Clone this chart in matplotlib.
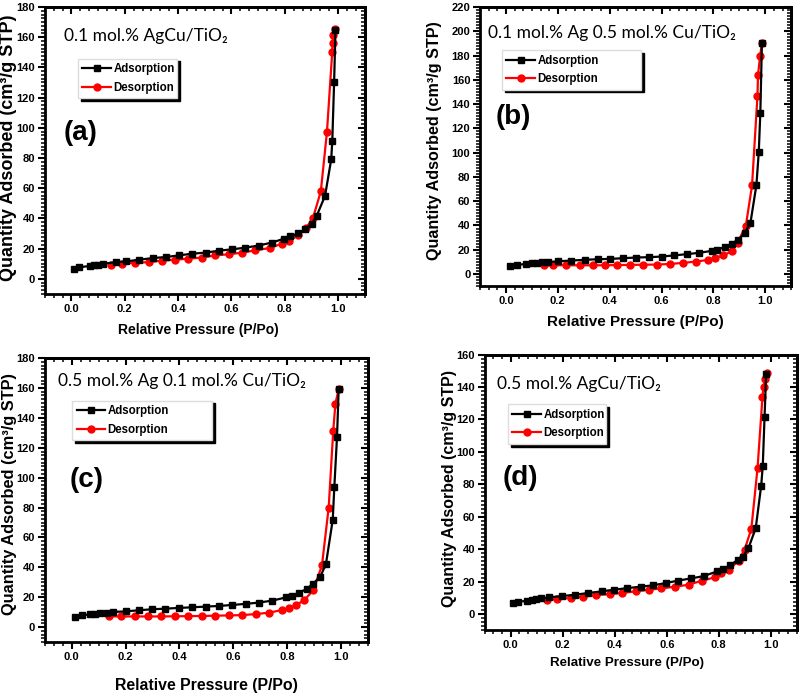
import matplotlib
matplotlib.use("Agg")
import matplotlib.pyplot as plt
from matplotlib.ticker import MultipleLocator, AutoMinorLocator, NullFormatter

plt.rcParams['font.family'] = ['Liberation Sans', 'DejaVu Sans']

# ---------------- data ----------------
titles = ["0.1 mol.% AgCu/TiO\u2082",
          "0.1 mol.% Ag 0.5 mol.% Cu/TiO\u2082",
          "0.5 mol.% Ag 0.1 mol.% Cu/TiO\u2082",
          "0.5 mol.% AgCu/TiO\u2082"]
labels = ["(a)", "(b)", "(c)", "(d)"]

ads_x_a = [0.010, 0.030, 0.068, 0.085, 0.100, 0.120, 0.168, 0.205, 0.255, 0.304, 0.354, 0.404,
           0.453, 0.503, 0.553, 0.602, 0.652, 0.702, 0.752, 0.798, 0.820, 0.851, 0.876, 0.902,
           0.920, 0.951, 0.974, 0.978, 0.985, 0.990]
ads_y_a = [6.6, 7.7, 8.4, 8.9, 9.3, 10.0, 11.0, 11.5, 12.6, 13.7, 14.4, 15.5,
           16.6, 17.3, 18.6, 19.5, 20.6, 22.0, 24.0, 26.6, 28.0, 30.0, 32.8, 36.5,
           41.8, 55.0, 79.0, 91.0, 130.5, 165.0]
des_x_a = [0.989, 0.982, 0.979, 0.978, 0.958, 0.935, 0.906, 0.880, 0.851, 0.814, 0.789, 0.743,
           0.690, 0.640, 0.590, 0.540, 0.488, 0.438, 0.389, 0.339, 0.290, 0.240, 0.190, 0.149]
des_y_a = [165.5, 161.5, 156.0, 150.5, 97.0, 57.8, 40.5, 33.5, 28.8, 25.0, 23.2, 20.4,
           18.8, 17.3, 16.2, 15.5, 14.0, 13.3, 12.6, 12.0, 11.0, 10.6, 10.0, 9.3]

ads_x_b = [0.017, 0.042, 0.076, 0.099, 0.118, 0.138, 0.163, 0.200, 0.252, 0.303, 0.354, 0.403,
           0.450, 0.500, 0.552, 0.600, 0.647, 0.698, 0.746, 0.794, 0.815, 0.845, 0.870, 0.896,
           0.921, 0.943, 0.966, 0.975, 0.981, 0.987]
ads_y_b = [6.4, 7.5, 8.3, 8.9, 9.2, 9.7, 9.8, 10.5, 11.1, 11.7, 12.2, 12.5,
           13.0, 13.6, 13.9, 14.4, 15.3, 16.4, 17.5, 19.1, 20.2, 22.2, 25.0, 28.3,
           33.8, 42.4, 73.5, 100.7, 133.0, 190.0]
des_x_b = [0.987, 0.980, 0.972, 0.970, 0.949, 0.925, 0.893, 0.870, 0.836, 0.806, 0.781, 0.734,
           0.683, 0.632, 0.581, 0.530, 0.480, 0.430, 0.382, 0.335, 0.284, 0.233, 0.180, 0.148]
des_y_b = [190.0, 179.5, 163.7, 147.0, 73.0, 39.7, 25.8, 18.6, 15.3, 13.3, 11.7, 10.3,
           9.2, 8.3, 7.8, 7.7, 7.5, 7.4, 7.2, 7.2, 7.2, 7.2, 7.2, 7.2]

ads_x_c = [0.012, 0.037, 0.068, 0.087, 0.106, 0.130, 0.155, 0.200, 0.248, 0.298, 0.348, 0.398,
           0.447, 0.497, 0.547, 0.596, 0.646, 0.696, 0.745, 0.795, 0.817, 0.845, 0.872, 0.894,
           0.922, 0.944, 0.969, 0.975, 0.985, 0.991]
ads_y_c = [6.8, 7.9, 8.6, 9.0, 9.2, 9.7, 10.2, 10.6, 11.3, 12.0, 12.4, 12.9,
           13.3, 13.8, 14.2, 14.9, 15.6, 16.5, 17.8, 19.9, 21.0, 23.2, 25.5, 28.9,
           33.4, 42.4, 71.7, 93.8, 127.5, 159.0]
des_x_c = [0.991, 0.979, 0.971, 0.954, 0.929, 0.897, 0.863, 0.832, 0.807, 0.780, 0.733, 0.683,
           0.634, 0.584, 0.532, 0.482, 0.432, 0.383, 0.333, 0.283, 0.234, 0.184, 0.137]
des_y_c = [159.0, 149.6, 131.5, 80.0, 41.3, 24.8, 18.0, 14.7, 12.6, 11.5, 9.7, 8.8,
           8.1, 7.9, 7.7, 7.5, 7.4, 7.3, 7.2, 7.2, 7.2, 7.2, 7.2]

ads_x_d = [0.010, 0.029, 0.064, 0.080, 0.098, 0.118, 0.147, 0.196, 0.247, 0.298, 0.349, 0.396,
           0.448, 0.499, 0.546, 0.595, 0.643, 0.693, 0.742, 0.793, 0.815, 0.844, 0.872, 0.893,
           0.914, 0.942, 0.963, 0.969, 0.976, 0.982]
ads_y_d = [6.6, 7.6, 8.2, 8.8, 9.3, 9.7, 10.3, 11.1, 11.9, 13.0, 14.0, 15.0,
           16.0, 16.9, 17.7, 19.1, 20.6, 22.0, 23.4, 26.3, 27.6, 30.2, 33.3, 35.4,
           40.7, 52.9, 79.2, 91.0, 121.7, 148.0]
des_x_d = [0.984, 0.979, 0.972, 0.968, 0.949, 0.925, 0.899, 0.876, 0.838, 0.810, 0.784, 0.735,
           0.684, 0.633, 0.579, 0.531, 0.480, 0.428, 0.380, 0.329, 0.277, 0.230, 0.179, 0.141]
des_y_d = [148.7, 145.0, 140.0, 134.0, 90.0, 52.4, 39.7, 33.0, 27.1, 25.3, 22.6, 20.6,
           18.1, 16.9, 15.8, 15.0, 14.0, 13.0, 12.3, 11.7, 10.7, 9.9, 9.3, 8.6]

ymax = [180, 220, 180, 160]
xtick_vals = [0.0, 0.2, 0.4, 0.6, 0.8, 1.0]
xtick_text = ['0.0', '0.2', '0.4', '0.6', '0.8', '1.0']
xlabel_text = 'Relative Pressure (P/Po)'
ylabel_text = 'Quantity Adsorbed (cm\u00b3/g STP)'

ads_x = [ads_x_a, ads_x_b, ads_x_c, ads_x_d]
ads_y = [ads_y_a, ads_y_b, ads_y_c, ads_y_d]
des_x = [des_x_a, des_x_b, des_x_c, des_x_d]
des_y = [des_y_a, des_y_b, des_y_c, des_y_d]

# ---------------- layout ----------------
fig = plt.figure(figsize=(8.0, 6.98), dpi=100)
rects = [(0.056, 0.579, 0.400, 0.411),
         (0.600, 0.590, 0.389, 0.400),
         (0.056, 0.080, 0.404, 0.407),
         (0.606, 0.097, 0.390, 0.395)]
title_pos = [(0.06, 0.90), (0.026, 0.907), (0.04, 0.92), (0.04, 0.895)]
label_pos = [(0.06, 0.56), (0.05, 0.606), (0.077, 0.57), (0.058, 0.554)]
leg_box = [(0.103, 0.82, 0.31), (0.07, 0.846, 0.447), (0.084, 0.85, 0.433), (0.074, 0.82, 0.315)]
xl_pos = [(0.48, -0.125), (0.498, -0.129), (0.50, -0.151), (0.455, -0.12)]
yl_pos = [(-0.1125, 0.51), (-0.145, 0.52), (-0.108, 0.523), (-0.112, 0.513)]
xl_size = [10.0, 11.0, 11.4, 9.6]
yl_size = [13.0, 11.6, 11.8, 11.5]

for i in range(4):
    ax = fig.add_axes(rects[i])
    ax.plot(ads_x[i], ads_y[i], color='black', marker='s', markersize=4.5,
            linewidth=1.6, label='Adsorption', zorder=3)
    ax.plot(des_x[i], des_y[i], color='#ff0000', marker='o', markersize=5,
            linewidth=1.6, label='Desorption', zorder=2)
    ax.set_xlim(-0.1, 1.1)
    ax.set_ylim(-10, ymax[i])
    ax.set_xticks(xtick_vals)
    ax.set_xticklabels(xtick_text)
    ax.xaxis.set_minor_locator(AutoMinorLocator(6))
    ax.yaxis.set_major_locator(MultipleLocator(20))
    ax.yaxis.set_minor_locator(MultipleLocator(2.5))
    ax.tick_params(which='major', direction='out', length=5, width=1.5,
                   labelsize=8, pad=2)
    ax.tick_params(which='minor', direction='out', length=3, width=1.1)
    for lab in ax.get_xticklabels() + ax.get_yticklabels():
        lab.set_fontweight('bold')
    # mirrored ticks on top and right, pointing inward
    top = ax.secondary_xaxis('top')
    top.set_xticks(xtick_vals)
    top.xaxis.set_minor_locator(AutoMinorLocator(6))
    top.xaxis.set_major_formatter(NullFormatter())
    top.tick_params(which='major', direction='in', length=5, width=1.5)
    top.tick_params(which='minor', direction='in', length=3, width=1.1)
    right = ax.secondary_yaxis('right')
    right.yaxis.set_major_locator(MultipleLocator(20))
    right.yaxis.set_minor_locator(MultipleLocator(2.5))
    right.yaxis.set_major_formatter(NullFormatter())
    right.tick_params(which='major', direction='in', length=5, width=1.5)
    right.tick_params(which='minor', direction='in', length=3, width=1.1)
    for s in list(ax.spines.values()) + [top.spines['top'], right.spines['right']]:
        s.set_linewidth(2)
    ax.set_xlabel(xlabel_text, fontsize=xl_size[i], fontweight='bold')
    ax.set_ylabel(ylabel_text, fontsize=yl_size[i], fontweight='bold')
    ax.xaxis.set_label_coords(*xl_pos[i])
    ax.yaxis.set_label_coords(*yl_pos[i])
    ax.xaxis.label.set_va('center')
    ax.yaxis.label.set_va('center')
    ax.text(title_pos[i][0], title_pos[i][1], titles[i], transform=ax.transAxes,
            fontsize=12.5, family=['Lato', 'DejaVu Sans'], va='center', ha='left')
    ax.text(label_pos[i][0], label_pos[i][1], labels[i], transform=ax.transAxes,
            fontsize=20, fontweight='bold', va='center', ha='left')
    lx, ly, lw = leg_box[i]
    leg = ax.legend(loc='upper left', bbox_to_anchor=(lx, ly - 0.2, lw, 0.2),
                    mode='expand', fontsize=8.3,
                    handlelength=2.5, handletextpad=0.2, borderpad=0.4,
                    labelspacing=0.55, fancybox=False, edgecolor='#dddddd',
                    shadow={'color': 'black', 'alpha': 1.0}, framealpha=1,
                    borderaxespad=0)
    for t in leg.get_texts():
        t.set_fontweight('bold')

fig.savefig('out.png', dpi=100)
